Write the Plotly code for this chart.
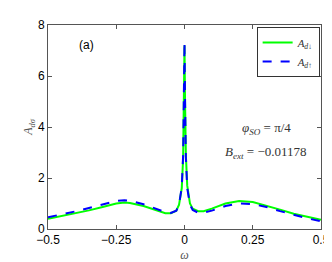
import plotly.graph_objects as go

omega = [-0.5, -0.45, -0.4, -0.35, -0.3, -0.25, -0.22, -0.2, -0.15, -0.1, -0.07, -0.05,
         -0.03, -0.02, -0.01, -0.005, -0.002, 0.0, 0.002, 0.005, 0.01, 0.02, 0.03, 0.05,
         0.07, 0.1, 0.15, 0.2, 0.25, 0.3, 0.35, 0.4, 0.45, 0.5]
A_down = [0.40, 0.50, 0.61, 0.73, 0.86, 1.00, 1.04, 1.02, 0.90, 0.72, 0.62, 0.62,
          0.72, 0.95, 1.60, 2.80, 5.00, 7.20, 5.00, 2.90, 1.70, 1.00, 0.80, 0.70,
          0.70, 0.80, 1.00, 1.10, 1.06, 0.92, 0.76, 0.60, 0.47, 0.36]
A_up = [0.46, 0.57, 0.69, 0.82, 0.96, 1.10, 1.13, 1.11, 0.97, 0.78, 0.66, 0.63,
        0.72, 0.95, 1.65, 2.90, 5.10, 7.35, 5.10, 2.80, 1.60, 0.95, 0.75, 0.64,
        0.64, 0.72, 0.90, 1.00, 0.98, 0.86, 0.70, 0.55, 0.42, 0.30]
x_ticks = [-0.5, -0.25, 0, 0.25, 0.5]
x_tick_labels = ["\u22120.5", "\u22120.25", "0", "0.25", "0.5"]
y_ticks = [0, 2, 4, 6, 8]

serif = "Liberation Serif"
sans = "Liberation Sans"

fig = go.Figure()
fig.add_trace(go.Scatter(x=omega, y=A_down, mode="lines", name="<i>A</i><sub><i>d</i>\u2193</sub>",
                         line=dict(color="#00ff00", width=2)))
fig.add_trace(go.Scatter(x=omega, y=A_up, mode="lines", name="<i>A</i><sub><i>d</i>\u2191</sub>",
                         line=dict(color="#0000ff", width=2, dash="dash")))

axis_common = dict(showgrid=False, zeroline=False, showline=True, linecolor="#555555",
                   linewidth=1, mirror="ticks", ticks="inside", ticklen=4,
                   tickcolor="#555555", tickfont=dict(family=sans, size=12, color="black"))
fig.update_xaxes(range=[-0.5, 0.5], tickvals=x_ticks, ticktext=x_tick_labels,
                 title=dict(text="<i>\u03c9</i>", font=dict(family=serif, size=12, color="#555555"), standoff=4),
                 **axis_common)
fig.update_yaxes(range=[0, 8], tickvals=y_ticks,
                 title=dict(text="<i>A</i><sub><i>d\u03c3</i></sub>", font=dict(family=serif, size=12, color="#555555"), standoff=2),
                 **axis_common)

fig.add_annotation(x=-0.36, y=7.2, xref="x", yref="y", text="(a)", showarrow=False,
                   font=dict(family=sans, size=12, color="black"))
fig.add_annotation(x=0.30, y=3.95, xref="x", yref="y",
                   text="<i>\u03c6</i><sub><i>SO</i></sub> = \u03c0/4", showarrow=False,
                   font=dict(family=serif, size=13, color="#333333"))
fig.add_annotation(x=0.30, y=3.0, xref="x", yref="y",
                   text="<i>B</i><sub><i>ext</i></sub> = \u22120.01178", showarrow=False,
                   font=dict(family=serif, size=13, color="#333333"))

fig.update_layout(
    width=332, height=262,
    margin=dict(l=40, r=12, t=10, b=31),
    paper_bgcolor="white", plot_bgcolor="white",
    showlegend=True,
    legend=dict(x=0.995, y=0.99, xanchor="right", yanchor="top",
                bgcolor="white", bordercolor="#333333", borderwidth=1,
                font=dict(family=serif, size=11, color="#333333"),
                tracegroupgap=0, itemwidth=30),
)

fig.write_html("out.html")
